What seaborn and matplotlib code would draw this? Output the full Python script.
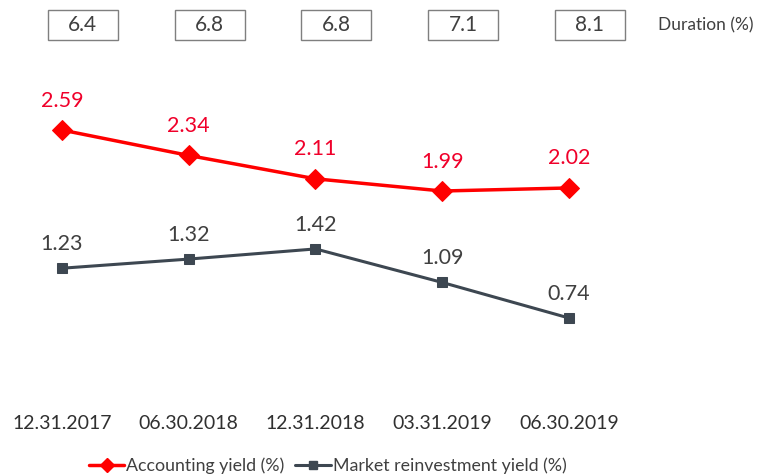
import matplotlib
matplotlib.use("Agg")
import matplotlib.pyplot as plt
import seaborn as sns
import pandas as pd
from matplotlib.lines import Line2D
from matplotlib.patches import Rectangle

dates = ["12.31.2017", "06.30.2018", "12.31.2018", "03.31.2019", "06.30.2019"]
accounting = [2.59, 2.34, 2.11, 1.99, 2.02]
market = [1.23, 1.32, 1.42, 1.09, 0.74]
duration = ["6.4", "6.8", "6.8", "7.1", "8.1"]

sns.set_theme(style="white")
plt.rcParams["font.family"] = ["Lato", "DejaVu Sans"]

RED = "#FF0000"
RED_TXT = "#F0002A"
GRAY = "#3D4751"
TXT = "#404040"

df = pd.DataFrame({"x": list(range(len(dates))) * 2,
                   "y": accounting + market,
                   "s": ["Accounting yield (%)"] * len(dates) + ["Market reinvestment yield (%)"] * len(dates)})

fig = plt.figure(figsize=(7.69, 4.76), dpi=100)
ax = fig.add_axes([0, 0, 1, 1])

sns.lineplot(data=df[df.s == "Accounting yield (%)"], x="x", y="y", color=RED, lw=2.5,
             marker="D", markersize=10, markeredgecolor=RED, ax=ax, legend=False)
sns.lineplot(data=df[df.s == "Market reinvestment yield (%)"], x="x", y="y", color=GRAY, lw=2.2,
             marker="s", markersize=7, markeredgecolor=GRAY, ax=ax, legend=False)

ax.set_xlim(-0.489, 5.578)
ax.set_ylim(-0.815, 3.87)
ax.axis("off")

for i, v in enumerate(accounting):
    ax.text(i, v + 0.29, f"{v:.2f}", ha="center", va="center", fontsize=15.5, color=RED_TXT)
for i, v in enumerate(market):
    ax.text(i, v + 0.24, f"{v:.2f}", ha="center", va="center", fontsize=15.5, color=TXT)

for i, d in enumerate(dates):
    ax.text(i, -0.3, d, ha="center", va="center", fontsize=14, color="#303030")

# duration boxes
bw = 70 / 126.75
bh = 30 / 101.6
yc = 3.87 - 25 / 101.6
for i, d in enumerate(duration):
    xc = i + 0.165
    ax.add_patch(Rectangle((xc - bw / 2, yc - bh / 2), bw, bh, fill=False,
                           edgecolor="#7F7F7F", lw=1.0))
    ax.text(xc, yc, d, ha="center", va="center", fontsize=15, color=TXT)
ax.text((658 - 62) / 126.75, yc, "Duration (%)", ha="left", va="center", fontsize=12.5, color=TXT)

handles = [Line2D([], [], color=RED, lw=2.5, marker="D", markersize=7),
           Line2D([], [], color=GRAY, lw=2.2, marker="s", markersize=5.5)]
fig.legend(handles, ["Accounting yield (%)", "Market reinvestment yield (%)"],
           loc="center", bbox_to_anchor=(0.426, 0.022), ncol=2, frameon=False,
           fontsize=12.8, handlelength=2.0, handletextpad=0.1, columnspacing=0.6,
           labelcolor=TXT)

fig.savefig("out.png", dpi=100)
